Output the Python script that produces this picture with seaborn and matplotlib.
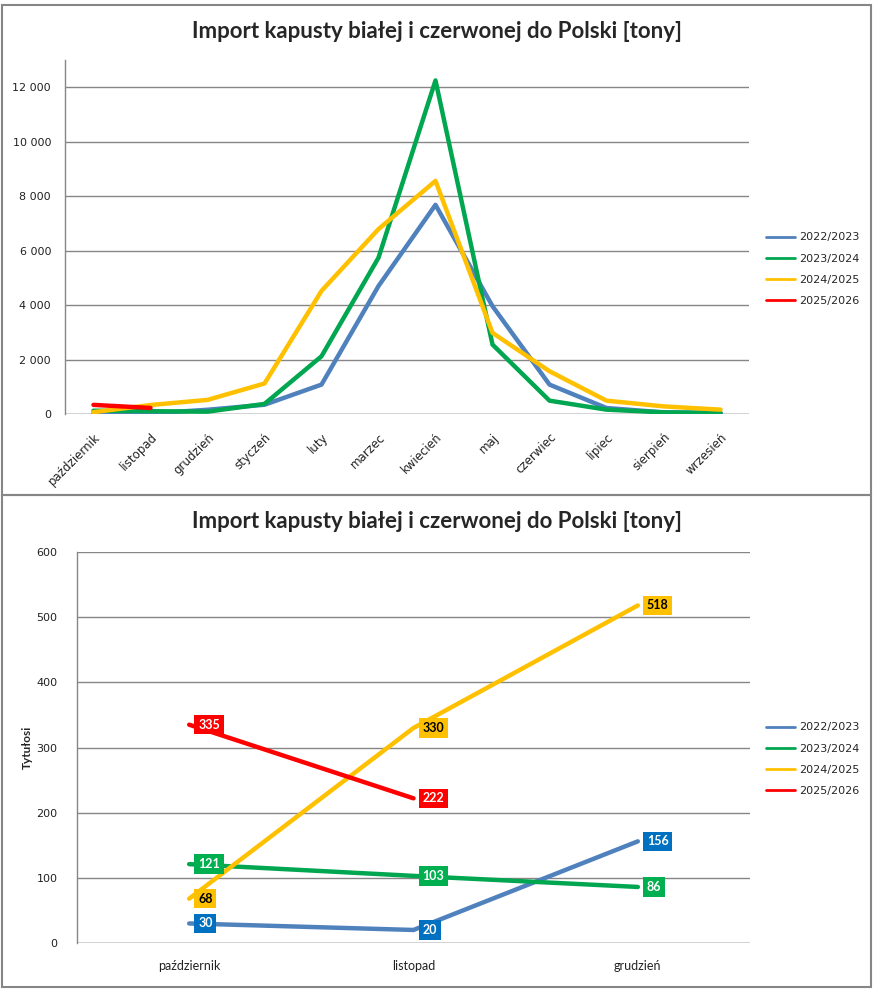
import matplotlib
matplotlib.use("Agg")
import matplotlib.pyplot as plt
import matplotlib.ticker as mticker
from matplotlib.lines import Line2D
from matplotlib.patches import Rectangle
import numpy as np
import pandas as pd
import seaborn as sns

sns.set_theme(style="white")
plt.rcParams["font.family"] = ["DejaVu Sans"]

# ---- data
months = ["październik", "listopad", "grudzień", "styczeń", "luty", "marzec",
          "kwiecień", "maj", "czerwiec", "lipiec", "sierpień", "wrzesień"]
seasons = ["2022/2023", "2023/2024", "2024/2025", "2025/2026"]
s2022 = [30, 20, 156, 340, 1080, 4700, 7680, 3960, 1080, 220, 60, 40]
s2023 = [121, 103, 86, 370, 2120, 5740, 12250, 2550, 490, 160, 60, 40]
s2024 = [68, 330, 518, 1120, 4520, 6790, 8560, 2980, 1570, 490, 280, 160]
s2025 = [335, 222]

title = "Import kapusty białej i czerwonej do Polski [tony]"
zoom_months = months[:3]
ylabel_bottom = "Tytułosi"

line_colors = ["#4F81BD", "#00A650", "#FFC000", "#FF0000"]
label_colors = ["#0070C0", "#00B050", "#FFC000", "#FF0000"]
label_text = ["white", "white", "black", "white"]

series = [s2022, s2023, s2024, s2025]
rows = []
for name, vals in zip(seasons, series):
    for m, v in zip(months, vals):
        rows.append({"miesiac": m, "sezon": name, "tony": v})
df = pd.DataFrame(rows)
df_zoom = df[df["miesiac"].isin(zoom_months)]

fig = plt.figure(figsize=(8.74, 9.93), dpi=100)
W, H = 874, 993


def fx(px):
    return px / W


def fy(py):
    return 1 - py / H


# panel borders
for top, bot in [(5, 495), (495, 987)]:
    fig.patches.append(Rectangle((fx(2), fy(bot)), fx(869), (bot - top) / H,
                                 transform=fig.transFigure, fill=False,
                                 edgecolor="#868686", lw=1.5))

grid_c = "#868686"


def style_axes(ax):
    for s in ["top", "right", "bottom"]:
        ax.spines[s].set_visible(False)
    ax.spines["left"].set_color(grid_c)
    ax.spines["left"].set_linewidth(1)
    ax.yaxis.grid(True, color=grid_c, lw=1)
    ax.axhline(0, color=grid_c, lw=1, zorder=0.5)
    ax.set_axisbelow(True)
    ax.tick_params(axis="both", length=0, colors="#222222")
    ax.set_xlabel("")
    ax.set_ylabel("")


def legend(y_top):
    handles = [Line2D([], [], color=c, lw=2) for c in line_colors]
    fig.legend(handles, seasons, loc="upper left",
               bbox_to_anchor=(fx(762), fy(y_top)), frameon=False,
               fontsize=8, handlelength=2.6, handletextpad=0.3,
               labelspacing=1.0, borderaxespad=0)


# ---- top chart
ax1 = fig.add_axes([fx(65), fy(414), fx(749 - 65), (414 - 60) / H])
sns.lineplot(data=df, x="miesiac", y="tony", hue="sezon", palette=line_colors,
             sort=False, lw=3.2, ax=ax1, legend=False)
ax1.set_xlim(-0.5, 11.5)
ax1.set_ylim(0, 13000)
ax1.set_yticks(np.arange(0, 12001, 2000))
ax1.yaxis.set_major_formatter(
    mticker.FuncFormatter(lambda v, p: f"{int(v):,}".replace(",", " ")))
style_axes(ax1)
ax1.tick_params(axis="y", labelsize=8, pad=10)
ax1.set_xticks(range(len(months)))
ax1.set_xticklabels(months, rotation=45, ha="right", rotation_mode="anchor",
                    fontsize=8.5)
ax1.tick_params(axis="x", pad=12)
fig.text(0.5, fy(32), title, ha="center", va="center", fontsize=16,
         fontweight="bold", family="Lato")
legend(228)

# ---- bottom chart
ax2 = fig.add_axes([fx(77), fy(943), fx(750 - 77), (943 - 552) / H])
sns.lineplot(data=df_zoom, x="miesiac", y="tony", hue="sezon",
             palette=line_colors, sort=False, lw=3.2, ax=ax2, legend=False)
ax2.set_xlim(-0.5, 2.5)
ax2.set_ylim(0, 600)
ax2.set_yticks(np.arange(0, 601, 100))
style_axes(ax2)
ax2.tick_params(axis="y", labelsize=8, pad=14)
ax2.set_xticks(range(len(zoom_months)))
ax2.set_xticklabels(zoom_months, fontsize=9, family="Lato")
ax2.tick_params(axis="x", pad=12)
ax2.set_ylabel(ylabel_bottom, fontsize=8.5, fontweight="bold", family="Lato")
ax2.yaxis.set_label_coords((33 - 77) / 673, 0.5)

for i, vals in enumerate(series):
    for j, v in enumerate(vals[:3]):
        ax2.annotate(str(v), (j, v), xytext=(9, 0), textcoords="offset pixels",
                     ha="left", va="center", fontsize=9, fontweight="bold",
                     color=label_text[i], family="Lato",
                     bbox=dict(boxstyle="square,pad=0.3", fc=label_colors[i],
                               ec="none"))

fig.text(0.5, fy(521), title, ha="center", va="center", fontsize=16,
         fontweight="bold", family="Lato")
legend(718)

fig.savefig("out.png", dpi=100)
